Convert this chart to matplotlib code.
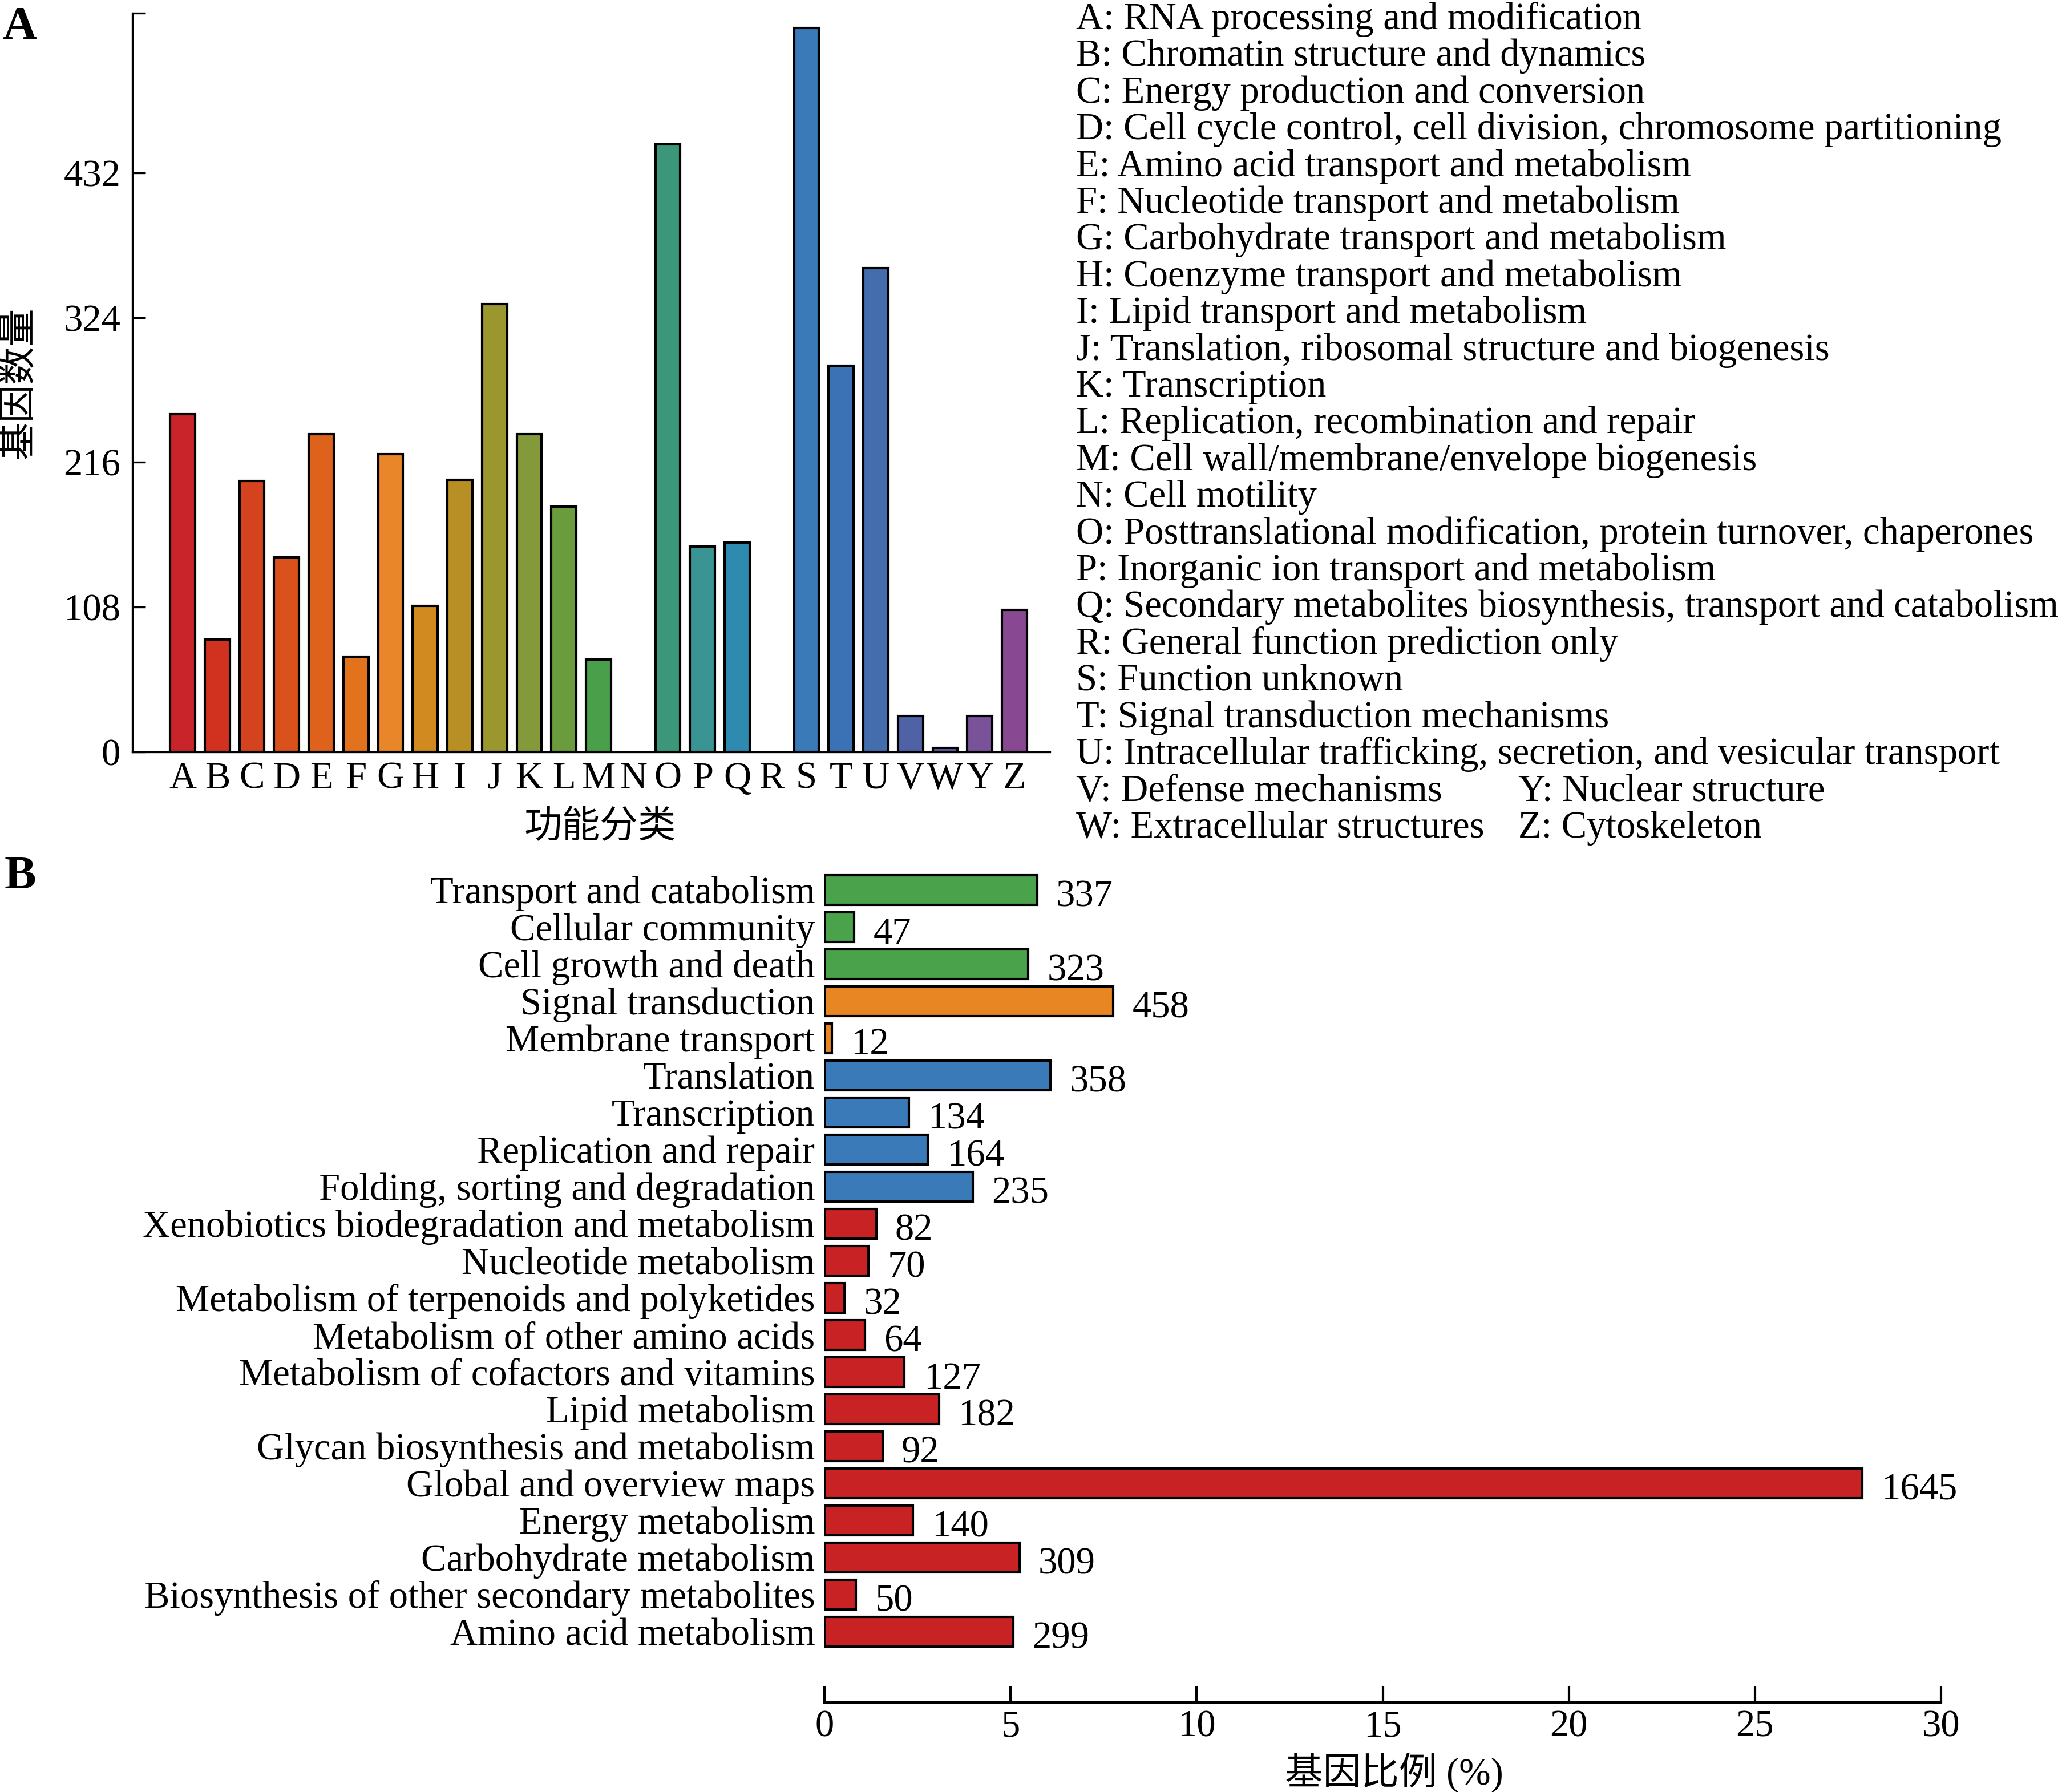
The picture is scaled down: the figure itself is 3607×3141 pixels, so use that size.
import matplotlib
matplotlib.use('Agg')
import matplotlib.pyplot as plt

plt.rcParams['font.family'] = ['Liberation Serif', 'Noto Sans CJK SC']
plt.rcParams['axes.unicode_minus'] = False

# ---- panel A: COG classes ----
cog_letters = ['A', 'B', 'C', 'D', 'E', 'F', 'G', 'H', 'I', 'J', 'K', 'L', 'M',
               'N', 'O', 'P', 'Q', 'R', 'S', 'T', 'U', 'V', 'W', 'Y', 'Z']
cog_counts = [252, 84, 202, 145, 237, 71, 222, 109, 203, 334, 237, 183, 69,
              0, 453, 153, 156, 0, 540, 288, 361, 27, 3, 27, 106]
cog_colors = ['#c9242a', '#d1321f', '#d5431e', '#da511c', '#df621c', '#e3721d',
              '#e9862a', '#d08a20', '#b88f24', '#9c962e', '#849a3a', '#6a9c3e',
              '#4aa04a', '#4aa04a', '#3a977a', '#3a9494', '#2e8aae', '#2e8aae',
              '#3a7ab9', '#3a72b5', '#446dad', '#5062a6', '#6a5a9f', '#7a529a',
              '#884892']
cog_names = [
    'RNA processing and modification',
    'Chromatin structure and dynamics',
    'Energy production and conversion',
    'Cell cycle control, cell division, chromosome partitioning',
    'Amino acid transport and metabolism',
    'Nucleotide transport and metabolism',
    'Carbohydrate transport and metabolism',
    'Coenzyme transport and metabolism',
    'Lipid transport and metabolism',
    'Translation, ribosomal structure and biogenesis',
    'Transcription',
    'Replication, recombination and repair',
    'Cell wall/membrane/envelope biogenesis',
    'Cell motility',
    'Posttranslational modification, protein turnover, chaperones',
    'Inorganic ion transport and metabolism',
    'Secondary metabolites biosynthesis, transport and catabolism',
    'General function prediction only',
    'Function unknown',
    'Signal transduction mechanisms',
    'Intracellular trafficking, secretion, and vesicular transport',
    'Defense mechanisms',
    'Extracellular structures',
    'Nuclear structure',
    'Cytoskeleton',
]
yticks_A = [0, 108, 216, 324, 432]
ymax_A = 551

# ---- panel B: KEGG pathways ----
kegg_names = ['Transport and catabolism', 'Cellular community', 'Cell growth and death',
              'Signal transduction', 'Membrane transport', 'Translation', 'Transcription',
              'Replication and repair', 'Folding, sorting and degradation',
              'Xenobiotics biodegradation and metabolism', 'Nucleotide metabolism',
              'Metabolism of terpenoids and polyketides', 'Metabolism of other amino acids',
              'Metabolism of cofactors and vitamins', 'Lipid metabolism',
              'Glycan biosynthesis and metabolism', 'Global and overview maps',
              'Energy metabolism', 'Carbohydrate metabolism',
              'Biosynthesis of other secondary metabolites', 'Amino acid metabolism']
kegg_counts = [337, 47, 323, 458, 12, 358, 134, 164, 235, 82, 70, 32, 64, 127,
               182, 92, 1645, 140, 309, 50, 299]
kegg_group = ['cp', 'cp', 'cp', 'ep', 'ep', 'gi', 'gi', 'gi', 'gi', 'm', 'm', 'm', 'm',
              'm', 'm', 'm', 'm', 'm', 'm', 'm', 'm']
group_colors = {'cp': '#4aa24a', 'ep': '#e88624', 'gi': '#3a7ab8', 'm': '#c92224'}
total_genes = 5900
xticks_B = [0, 5, 10, 15, 20, 25, 30]

FS = 16
W, H = 3607, 3141
fig = plt.figure(figsize=(W / 300, H / 300), dpi=300)

# ---------- A ----------
axA = fig.add_axes([232 / W, 1 - 1318 / H, (1840 - 232) / W, (1318 - 23) / H])
xs = list(range(len(cog_letters)))
axA.bar(xs, cog_counts, width=0.72, color=cog_colors, edgecolor='black',
        linewidth=[1.0 if c > 0 else 0 for c in cog_counts])
axA.set_xlim(-1.45, len(cog_letters) + 0.02)
axA.set_ylim(0, ymax_A)
axA.set_xticks(xs)
axA.set_xticklabels(cog_letters, fontsize=FS)
axA.set_yticks(yticks_A + [ymax_A])
axA.set_yticklabels([str(v) for v in yticks_A] + [''], fontsize=FS)
axA.tick_params(axis='x', length=0, pad=4)
axA.tick_params(axis='y', direction='in', length=5.5, width=0.8, pad=5)
for s in ['top', 'right']:
    axA.spines[s].set_visible(False)
for s in ['left', 'bottom']:
    axA.spines[s].set_linewidth(0.8)
axA.set_ylabel('基因数量', fontsize=FS)
axA.yaxis.set_label_coords(-0.104, 0.5)
axA.set_xlabel('功能分类', fontsize=FS)
axA.xaxis.set_label_coords(0.51, -0.078)

# legend text of the COG letters
y0, dy = 51, 64.4
x1, x2 = 1886 / W, 2661 / W
for i in range(21):
    fig.text(x1, 1 - (y0 + i * dy) / H, f'{cog_letters[i]}: {cog_names[i]}',
             fontsize=FS, va='baseline', ha='left')
for row, (a, b) in enumerate([(21, 23), (22, 24)]):
    yy = 1 - (y0 + (21 + row) * dy) / H
    fig.text(x1, yy, f'{cog_letters[a]}: {cog_names[a]}', fontsize=FS, va='baseline')
    fig.text(x2, yy, f'{cog_letters[b]}: {cog_names[b]}', fontsize=FS, va='baseline')

fig.text(4 / W, 1 - 10 / H, 'A', fontsize=20, fontweight='bold', va='top', ha='left')
fig.text(8 / W, 1 - 1500 / H, 'B', fontsize=20, fontweight='bold', va='top', ha='left')

# ---------- B ----------
axB = fig.add_axes([1445 / W, 1 - 2892 / H, (3402 - 1445) / W, (2892 - 1527) / H])
for s in ['top', 'right', 'left']:
    axB.spines[s].set_visible(False)
axB.spines['bottom'].set_position(('outward', 22))
axB.spines['bottom'].set_linewidth(1.0)

pct = [c / total_genes * 100 for c in kegg_counts]
ys = list(range(len(kegg_names)))
axB.barh(ys, pct, height=0.8, color=[group_colors[g] for g in kegg_group],
         edgecolor='black', linewidth=1.0)
for y, p, c in zip(ys, pct, kegg_counts):
    axB.annotate(str(c), (p, y), xytext=(8, -3), textcoords='offset points',
                 va='center', ha='left', fontsize=FS)
axB.set_ylim(len(kegg_names) - 0.5, -0.5)
axB.set_xlim(0, 30)
axB.set_yticks(ys)
axB.set_yticklabels(kegg_names, fontsize=FS)
axB.set_xticks(xticks_B)
axB.set_xticklabels([str(v) for v in xticks_B], fontsize=FS)
axB.tick_params(axis='y', length=0, pad=4)
axB.tick_params(axis='x', direction='in', length=7, width=1.0, pad=3, labelsize=FS)
axB.set_xlabel('基因比例 (%)', fontsize=FS)
axB.xaxis.set_label_coords(0.51, -0.132)

fig.savefig('out.png', dpi=300)
